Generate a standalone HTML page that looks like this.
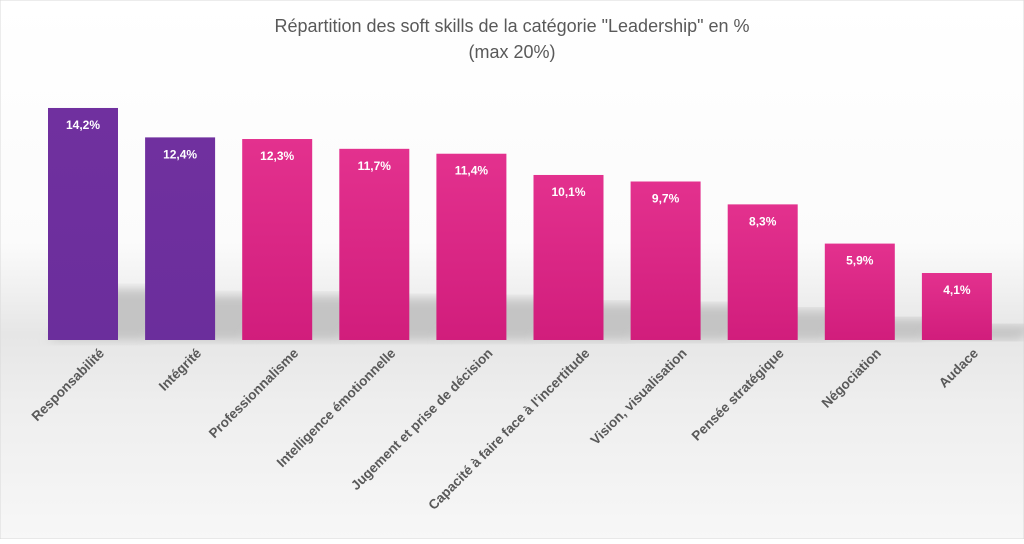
<!DOCTYPE html>
<html><head><meta charset="utf-8"><style>
html,body{margin:0;padding:0;}
body{width:1024px;height:539px;overflow:hidden;font-family:"Liberation Sans",sans-serif;}
</style></head><body>
<svg width="1024" height="539" xmlns="http://www.w3.org/2000/svg">
<defs>
<linearGradient id="bg" x1="0" y1="0" x2="0" y2="1">
<stop offset="0" stop-color="#ffffff"/><stop offset="0.45" stop-color="#fbfbfb"/><stop offset="0.62" stop-color="#e6e6e6"/><stop offset="0.75" stop-color="#eeeeee"/><stop offset="1" stop-color="#f7f7f7"/>
</linearGradient>
<linearGradient id="pink" x1="0" y1="0" x2="0" y2="1"><stop offset="0" stop-color="#e3318e"/><stop offset="1" stop-color="#d11d7c"/></linearGradient>
<linearGradient id="purple" x1="0" y1="0" x2="0" y2="1"><stop offset="0" stop-color="#70309f"/><stop offset="1" stop-color="#6b2e9c"/></linearGradient>
<filter id="blur"><feGaussianBlur stdDeviation="5"/></filter>
</defs>
<rect x="0" y="0" width="1024" height="539" fill="url(#bg)" stroke="#d9d9d9"/>
<text x="512" y="32" text-anchor="middle" font-size="18" fill="#595959">Répartition des soft skills de la catégorie "Leadership" en %</text>
<text x="512" y="58" text-anchor="middle" font-size="18" fill="#595959">(max 20%)</text>
<g id="shadows"></g>
<g id="bars"></g>
<g id="labels"></g>
</svg>
<script>
const categories=["Responsabilité","Intégrité","Professionnalisme","Intelligence émotionnelle","Jugement et prise de décision","Capacité à faire face à l'incertitude","Vision, visualisation","Pensée stratégique","Négociation","Audace"];
const values=[14.2,12.4,12.3,11.7,11.4,10.1,9.7,8.3,5.9,4.1];
const highlighted=[true,true,false,false,false,false,false,false,false,false];
const NS="http://www.w3.org/2000/svg";
const baseY=340, pxPerUnit=16.34, firstCenter=83, step=97.1, barW=70;
function xScale(i){return firstCenter+i*step;}
function yScale(v){return baseY-v*pxPerUnit;}
const sh=document.getElementById('shadows'),bg=document.getElementById('bars'),lg=document.getElementById('labels');
values.forEach((v,i)=>{
  const cx=xScale(i), top=yScale(v);
  const h=(baseY-top)*0.22;
  const s=document.createElementNS(NS,'polygon');
  
  
  s.setAttribute('points',`${cx-barW/2},${baseY} ${cx-barW/2+h},${baseY-h} ${cx+barW/2+h+28},${baseY-h} ${cx+barW/2+28},${baseY}`);
  s.setAttribute('fill','#c4c4c4');s.setAttribute('filter','url(#blur)');
  sh.appendChild(s);
  const r=document.createElementNS(NS,'rect');
  
  
  r.setAttribute('x',cx-barW/2);r.setAttribute('y',top);r.setAttribute('width',barW);r.setAttribute('height',baseY-top);
  r.setAttribute('fill',highlighted[i]?'url(#purple)':'url(#pink)');
  bg.appendChild(r);
  const t=document.createElementNS(NS,'text');
  
  
  t.setAttribute('x',cx);t.setAttribute('y',top+21);t.setAttribute('text-anchor','middle');
  t.setAttribute('font-size','12');t.setAttribute('font-weight','bold');t.setAttribute('fill','#ffffff');
  t.textContent=v.toFixed(1).replace('.',',')+'%';
  bg.appendChild(t);
  const c=document.createElementNS(NS,'text');
  
  
  c.setAttribute('text-anchor','end');c.setAttribute('font-size','13.5');c.setAttribute('font-weight','bold');c.setAttribute('fill','#595959');
  c.setAttribute('transform',`translate(${cx+22},${baseY+14}) rotate(-45)`);
  c.textContent=categories[i];
  lg.appendChild(c);
});
</script>
</body></html>
